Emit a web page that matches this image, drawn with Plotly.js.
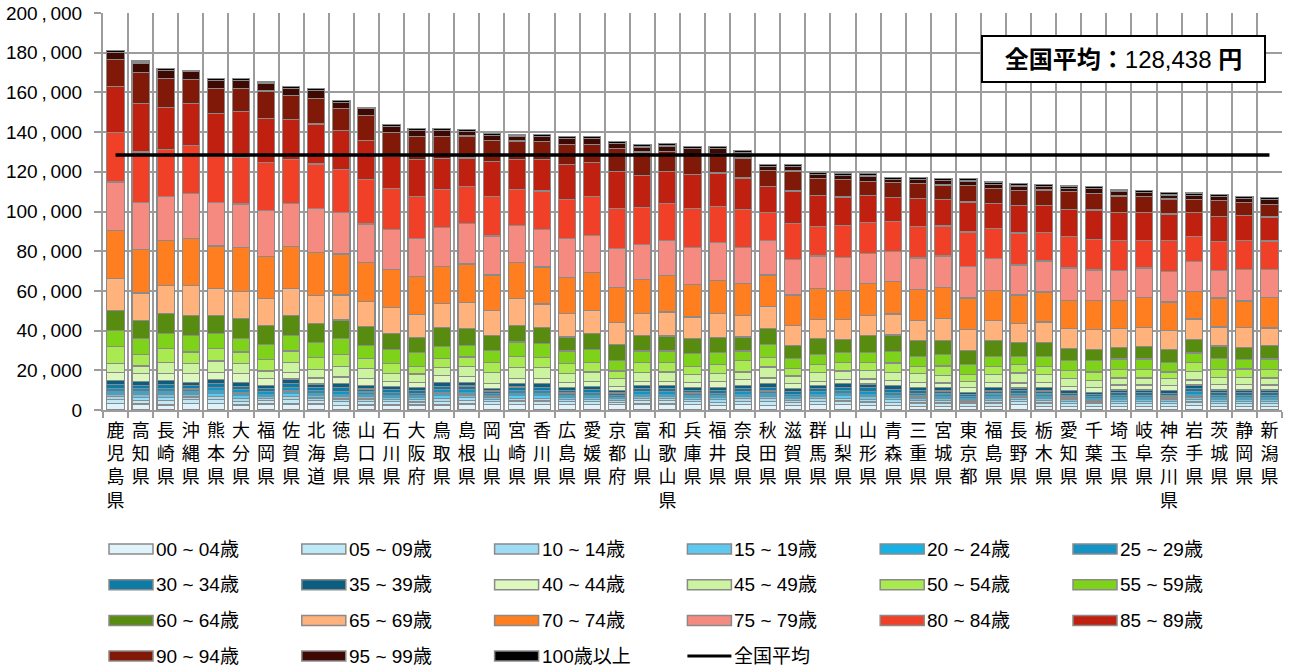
<!DOCTYPE html>
<html><head><meta charset="utf-8">
<script src="https://cdn.plot.ly/plotly-3.0.1.min.js"></script>
<style>html,body{margin:0;padding:0;background:#fff}#chart{width:1295px;height:671px}</style>
</head><body><div id="chart"></div>
<script>
const prefectures = ['鹿児島県','高知県','長崎県','沖縄県','熊本県','大分県','福岡県','佐賀県','北海道','徳島県',
 '山口県','石川県','大阪府','鳥取県','島根県','岡山県','宮崎県','香川県','広島県','愛媛県',
 '京都府','富山県','和歌山県','兵庫県','福井県','奈良県','秋田県','滋賀県','群馬県','山梨県',
 '山形県','青森県','三重県','宮城県','東京都','福島県','長野県','栃木県','愛知県','千葉県',
 '埼玉県','岐阜県','神奈川県','岩手県','茨城県','静岡県','新潟県'];

const ageLabels = ['00 ~ 04歳','05 ~ 09歳','10 ~ 14歳','15 ~ 19歳','20 ~ 24歳','25 ~ 29歳',
 '30 ~ 34歳','35 ~ 39歳','40 ~ 44歳','45 ~ 49歳','50 ~ 54歳','55 ~ 59歳',
 '60 ~ 64歳','65 ~ 69歳','70 ~ 74歳','75 ~ 79歳','80 ~ 84歳','85 ~ 89歳',
 '90 ~ 94歳','95 ~ 99歳','100歳以上'];

const v00_04 = [3400,3000,2500,3400,3400,2500,3000,3000,3000,2200, 2500,2500,2500,2500,3000,2700,2700,2700,2700,2700, 2700,3000,3000,2700,2400,2700,2400,2400,2700,2700, 2200,2200,1900,1900,1900,1900,2700,1900,1900,1900, 1900,1900,1900,2200,1900,1900,1900];
const v05_09 = [1900,1900,2100,1800,2000,1900,1600,2100,1700,1900, 1700,1600,1500,1900,1900,1400,1800,1800,1500,1500, 1200,1600,1600,1500,1500,1600,1800,1400,1600,1800, 1800,1700,1600,1600,1200,1600,1400,1600,1300,1200, 1400,1400,1300,1800,1400,1400,1400];
const v10_14 = [1500,1500,1600,1400,1600,1500,1200,1600,1300,1400, 1300,1200,1200,1500,1400,1100,1400,1400,1100,1200, 900,1200,1200,1100,1200,1300,1400,1100,1300,1400, 1400,1300,1300,1200,900,1200,1100,1200,1000,900, 1100,1100,1000,1400,1100,1100,1100];
const v15_19 = [1300,1400,1500,1300,1400,1400,1100,1500,1200,1300, 1200,1100,1100,1400,1300,1000,1300,1300,1100,1100, 900,1100,1100,1100,1100,1200,1300,1000,1200,1300, 1300,1200,1200,1100,900,1100,1000,1100,900,900, 1000,1000,900,1200,1000,1000,1000];
const v20_24 = [1200,1300,1400,1200,1300,1300,1000,1400,1100,1200, 1100,1000,1000,1300,1200,900,1200,1100,1000,1000, 800,1000,1000,1000,1000,1100,1200,900,1100,1100, 1200,1100,1100,1000,800,1000,900,1000,900,800, 900,900,900,1100,900,900,900];
const v25_29 = [1600,1600,1700,1500,1700,1600,1300,1800,1400,1500, 1300,1300,1200,1600,1500,1200,1500,1500,1200,1300, 1000,1300,1300,1200,1300,1300,1500,1200,1300,1500, 1500,1400,1300,1300,1000,1300,1200,1300,1100,1000, 1100,1100,1100,1500,1100,1100,1100];
const v30_34 = [1800,1800,1900,1700,1900,1800,1500,2000,1600,1800, 1500,1500,1400,1800,1800,1300,1700,1700,1400,1500, 1100,1500,1500,1400,1500,1500,1700,1300,1500,1700, 1800,1600,1500,1500,1100,1500,1400,1500,1300,1100, 1300,1300,1300,1700,1300,1300,1300];
const v35_39 = [2000,2000,2100,1700,2100,2000,1600,2200,1800,1900, 1700,1600,1500,2000,1900,1400,1900,1700,1500,1500, 1200,1600,1600,1500,1500,1600,1900,1400,1600,1700, 1900,1800,1600,1600,1200,1600,1400,1600,1400,1200, 1400,1400,1400,1700,1400,1400,1400];
const v40_44 = [4200,3700,3400,4200,3400,4200,3400,3400,3000,3400, 3400,2700,2500,3400,3000,2500,2500,2500,2500,2700, 2200,2200,2200,2200,3000,2900,2900,2500,2200,2000, 2500,2500,2500,2400,2500,2500,2500,2500,2200,2200, 2500,2500,2500,2500,2700,2700,2500];
const v45_49 = [4700,4000,5600,5400,5900,5100,3900,5100,4500,5400, 5100,3700,4200,3900,5100,5200,5600,5600,4200,4600, 3700,4200,4600,4200,3700,3900,5600,3900,4200,4400, 4200,4200,4200,3900,3000,4000,5000,4000,3700,3700, 3500,3500,3400,4400,3700,3700,3500];
const v50_54 = [8250,5900,7100,5600,6200,5900,5900,5600,5900,6100, 5100,5400,3700,4500,4600,5400,5400,5100,5100,4700, 3900,5100,4700,4200,4700,5900,4700,3700,4200,4200, 4200,4700,3900,4700,3200,4400,4500,4400,4200,4200, 4200,4200,3400,4500,3900,4200,4200];
const v55_59 = [8100,7750,7600,8400,7600,6700,7600,7900,7600,7900, 6700,6700,7200,6200,5900,5900,7300,7100,6400,6600, 5400,5900,5900,6200,5900,4700,6700,5100,4900,5100, 5000,5700,5000,5900,5200,5000,3700,5000,5000,5900, 5400,5400,4700,4700,5400,4700,5400];
const v60_64 = [10100,9300,10100,10100,9100,10100,9600,9900,9600,9300, 9300,8400,7600,9400,8400,7600,8400,7900,7100,8100, 7900,7900,7600,7600,7900,7100,7900,6700,8100,6700, 8400,8400,7900,7100,7100,7900,7200,7100,5900,5600, 5900,6400,6700,6700,6400,6200,6700];
const v65_69 = [16300,13800,14300,15200,13600,13500,13500,13600,14000,12600, 12600,13100,11500,12100,13000,12700,13500,12000,11800,11800, 11000,11000,12100,11000,11800,11000,11000,10100,9800,10100, 10100,10600,10100,10900,10400,10100,9600,10100,10100,10100, 9300,9600,9600,10400,9600,9800,8900];
const v70_74 = [24100,22100,22400,23300,21400,22400,21100,21400,21600,20700, 19700,18900,19200,18900,19600,17700,18000,18600,18100,18900, 17900,17200,18200,16400,16900,16000,16000,15200,15500,14700, 16300,16300,15500,15700,16000,15100,14300,15100,14300,14300, 14300,14800,14300,13800,14600,13500,15500];
const v75_79 = [24400,23600,22200,22700,22100,21900,23300,21600,22200,20900, 19500,20400,19000,19500,20200,19700,18600,18900,19900,18600, 19700,17700,17700,18700,18900,18200,17400,18100,16400,16400, 15100,15300,16000,15800,16000,16300,15100,15700,16300,15500, 15100,15000,15500,15300,14000,15800,13800];
const v80_84 = [25100,25300,23900,24300,23100,23600,23900,22200,22400,21600, 22600,20600,21100,19200,18900,19900,18200,19400,19400,19600, 19900,18700,18600,19400,18200,18900,14300,17900,14800,16200, 15700,15100,16000,15100,17300,14800,16200,14300,16000,15500, 15100,14000,15300,12500,14600,14500,14500];
const v85_89 = [22900,24400,21000,21200,21600,23100,22200,20200,20200,19900, 19500,16000,19000,15700,14300,17700,15200,16000,17700,17200, 18900,16000,16400,17200,16900,16000,13000,16400,15700,14300, 13500,12100,14000,13500,15100,12600,13800,13800,13600,14800, 14000,14000,13500,12300,12600,12600,12100];
const v90_94 = [13650,15500,14700,12100,12600,11500,14000,12000,13000,10800, 12500,12100,11300,11000,11000,10500,9300,8900,10100,9300, 11300,11800,9800,10100,9600,10100,7900,10100,8400,8800, 7100,7600,7600,7200,8400,7600,7600,7600,8800,8400, 8400,7900,7600,6400,8100,6700,6400];
const v95_99 = [3700,5000,4000,3900,3900,3900,3700,3400,3700,3000, 3400,3000,3000,3000,2400,2500,2500,2500,2900,2900, 2700,2500,2900,3000,2700,2500,1900,2200,2200,2200, 2700,1300,2000,2200,2200,2200,2200,1700,1700,2200, 2500,2000,2000,2000,1700,2000,2400];
const v100plus = [1000,1000,1000,800,1000,1000,800,1000,1000,1100, 800,1100,1100,1100,1000,1000,800,1100,1000,1000, 1100,1100,1100,1000,1000,1200,1100,1100,1000,1100, 1200,1200,1000,1200,1200,1200,1200,1200,1200,1200, 800,1000,1200,1200,1200,1200,1000];

const ageColors = ['#E0F3FA','#C0E9F8','#9EDCF5','#5DC8F0','#16B1E6','#1593C4','#0E7AA6','#0B5E80',
 '#DEF7BF','#CBF3A0','#A9EA50','#7FD21A','#578C10','#FFB27C','#FF7F20','#F58B80','#F04027','#C0200F',
 '#801908','#3E0903','#000000'];

const nationalAverage = 128438;
const averageLabel = '全国平均';
const averageBoxText = '<b>全国平均：</b>128,438 <b>円</b>';

const yTickValues = [0,20000,40000,60000,80000,100000,120000,140000,160000,180000,200000];
const yTickLabels = ['0','20\u2009,\u2009000','40\u2009,\u2009000','60\u2009,\u2009000','80\u2009,\u2009000','100\u2009,\u2009000','120\u2009,\u2009000','140\u2009,\u2009000','160\u2009,\u2009000','180\u2009,\u2009000','200\u2009,\u2009000'];

const seriesValues = [v00_04,v05_09,v10_14,v15_19,v20_24,v25_29,v30_34,v35_39,v40_44,v45_49,
 v50_54,v55_59,v60_64,v65_69,v70_74,v75_79,v80_84,v85_89,v90_94,v95_99,v100plus];

const L = 103, R = 13, T = 13, B = 261;
const W = 1295 - L - R, H = 671 - T - B;
const px = X => (X - L) / W;
const py = Y => (T + H - Y) / H;
const gridCol = '#9c9c9c';
const baseFont = 'Liberation Sans, Noto Sans CJK JP, sans-serif';

const traces = ageLabels.map((name, i) => ({
  type: 'bar', name: name, x: prefectures, y: seriesValues[i],
  marker: {color: ageColors[i], line: {color: '#8a8a8a', width: 1.2}},
  showlegend: false, hoverinfo: 'x+y+name'
}));
traces.push({
  type: 'scatter', mode: 'lines', name: averageLabel, x: prefectures,
  y: prefectures.map(() => nationalAverage),
  line: {color: '#000', width: 3.5}, showlegend: false
});

const shapes = [];
const annotations = [];
const legendNames = ageLabels.concat([averageLabel]);
legendNames.forEach((name, i) => {
  const col = i % 6, row = Math.floor(i / 6);
  const x0 = 109 + col * 192.8, yc = 549 + row * 35.7;
  if (i < ageLabels.length) {
    shapes.push({type: 'rect', xref: 'paper', yref: 'paper',
      x0: px(x0), x1: px(x0 + 44), y0: py(yc + 5), y1: py(yc - 5),
      fillcolor: ageColors[i], line: {color: '#8a8a8a', width: 1.5}});
  } else {
    shapes.push({type: 'line', xref: 'paper', yref: 'paper',
      x0: px(x0), x1: px(x0 + 44), y0: py(yc), y1: py(yc),
      line: {color: '#000', width: 3}});
  }
  annotations.push({xref: 'paper', yref: 'paper', x: px(x0 + 45), y: py(yc),
    xanchor: 'left', yanchor: 'middle', text: name, showarrow: false,
    font: {family: baseFont, size: 19, color: '#000'}});
});
annotations.push({xref: 'paper', yref: 'paper', x: px(1123.5), y: py(59),
  xanchor: 'center', yanchor: 'middle', text: averageBoxText, showarrow: false,
  width: 281, height: 44, align: 'center', valign: 'middle',
  bordercolor: '#000', borderwidth: 2, borderpad: 0, bgcolor: '#fff',
  font: {family: baseFont, size: 24, color: '#000'}});

const layout = {
  width: 1295, height: 671,
  margin: {l: L, r: R, t: T, b: B, pad: 0},
  paper_bgcolor: '#fff', plot_bgcolor: '#fff',
  barmode: 'stack', bargap: 0.31,
  font: {family: baseFont, color: '#000'},
  showlegend: false,
  xaxis: {
    type: 'category', tickson: 'boundaries',
    tickvals: prefectures, ticktext: prefectures.map(p => p.split('').join('<br>')),
    tickangle: 0, tickfont: {family: baseFont, size: 18, color: '#000'},
    showgrid: true, gridcolor: gridCol, gridwidth: 2,
    ticks: 'outside', ticklen: 6, tickwidth: 2, tickcolor: gridCol,
    showline: true, linecolor: gridCol, linewidth: 2,
    ticklabelstandoff: 3, fixedrange: true
  },
  yaxis: {
    range: [0, 200000], tickvals: yTickValues, ticktext: yTickLabels,
    tickfont: {family: baseFont, size: 19, color: '#000'},
    showgrid: true, gridcolor: gridCol, gridwidth: 2, zeroline: false,
    ticks: 'outside', ticklen: 7, tickwidth: 2, tickcolor: gridCol,
    showline: true, linecolor: gridCol, linewidth: 2,
    ticklabelstandoff: 8, fixedrange: true
  },
  shapes: shapes,
  annotations: annotations
};

Plotly.newPlot('chart', traces, layout, {displayModeBar: false, staticPlot: true});
</script>
</body></html>
